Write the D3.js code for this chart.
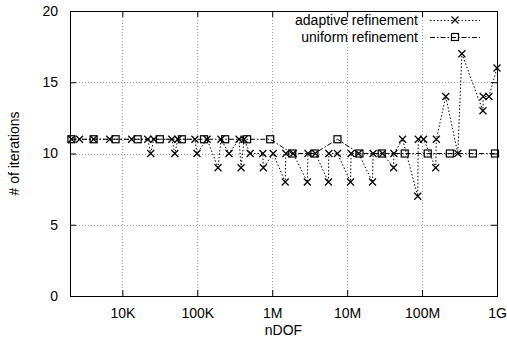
<!DOCTYPE html>
<html><head><meta charset="utf-8">
<script src="https://cdn.jsdelivr.net/npm/d3@7"></script>
<style>
html,body{margin:0;padding:0;background:#fff;}
svg{display:block;font-family:"Liberation Sans",Arial,sans-serif;}
</style></head>
<body>
<script>
// ---- data ----
const xTicks = [1e4, 1e5, 1e6, 1e7, 1e8, 1e9];
const xTickLabels = ["10K", "100K", "1M", "10M", "100M", "1G"];
const yTicks = [0, 5, 10, 15, 20];
const seriesNames = ["adaptive refinement", "uniform refinement"];

const uniformDOF = [2.09e3, 4.13e3, 8.13e3, 1.6e4, 3.16e4, 6.22e4, 1.23e5, 2.35e5, 4.62e5, 9.4e5,
  1.85e6, 3.66e6, 7.43e6, 1.46e7, 2.89e7, 5.87e7, 1.19e8, 2.35e8, 4.77e8, 9.4e8];
const uniformIter = [11, 11, 11, 11, 11, 11, 11, 11, 11, 11,
  10, 10, 11, 10, 10, 10, 10, 10, 10, 10];

const adaptiveDOF = [2.09e3, 2.68e3, 4.13e3, 6.77e3, 1.33e4, 2.18e4, 2.39e4, 2.63e4, 4.57e4, 5.01e4,
  5.5e4, 9.3e4, 9.9e4, 1.35e5, 1.89e5, 2.07e5, 2.65e5, 3.61e5, 3.84e5, 4.21e5,
  5.07e5, 7.5e5, 7.6e5, 1.03e6, 1.49e6, 1.52e6, 1.91e6, 2.94e6, 3.0e6, 3.77e6,
  5.62e6, 5.7e6, 7.42e6, 1.11e7, 1.13e7, 1.42e7, 2.18e7, 2.22e7, 2.97e7, 4.17e7,
  4.2e7, 5.5e7, 8.75e7, 8.9e7, 1.05e8, 1.52e8, 1.55e8, 2.07e8, 3.0e8, 3.4e8,
  6.49e8, 6.55e8, 7.81e8, 1.0e9];
const adaptiveIter = [11, 11, 11, 11, 11, 11, 10, 11, 11, 10,
  11, 11, 10, 11, 9, 11, 10, 11, 9, 11,
  10, 10, 9, 10, 8, 10, 10, 8, 10, 10,
  8, 10, 10, 8, 10, 10, 8, 10, 10, 9,
  10, 11, 7, 11, 11, 9, 11, 14, 10, 17,
  13, 14, 14, 16];

// ---- layout ----
const W = 507, H = 347;
const L = 70, R = 497, T = 11, B = 296;

const svg = d3.select("body").append("svg").attr("width", W).attr("height", H);

const x = d3.scaleLog().domain([2000, 1e9]).range([L, R]);
const y = d3.scaleLinear().domain([0, 20]).range([B, T]);

// grid
const grid = svg.append("g").attr("stroke", "#a0a0a0").attr("stroke-width", 1).attr("stroke-dasharray", "1,2");
xTicks.forEach(t => {
  const px = Math.round(x(t)) + 0.5;
  grid.append("line").attr("x1", px).attr("x2", px).attr("y1", T).attr("y2", B);
});
yTicks.filter(t => t > 0 && t < 20).forEach(t => {
  const py = Math.round(y(t)) + 0.5;
  grid.append("line").attr("x1", L).attr("x2", R).attr("y1", py).attr("y2", py);
});

// axes
const xAxis = d3.axisBottom(x).tickValues(xTicks).tickFormat((d, i) => xTickLabels[i]).tickSize(-6).tickPadding(12);
const gx = svg.append("g").attr("transform", `translate(0,${B})`).call(xAxis);
const xAxisTop = d3.axisTop(x).tickValues(xTicks).tickFormat("").tickSize(-6);
svg.append("g").attr("transform", `translate(0,${T})`).call(xAxisTop);
const yAxis = d3.axisLeft(y).tickValues(yTicks).tickSize(-6).tickPadding(12);
svg.append("g").attr("transform", `translate(${L},0)`).call(yAxis);
const yAxisR = d3.axisRight(y).tickValues(yTicks).tickFormat("").tickSize(-6);
svg.append("g").attr("transform", `translate(${R},0)`).call(yAxisR);
svg.selectAll(".domain").remove();
svg.selectAll(".tick line").attr("stroke", "#000");
svg.selectAll(".tick text").attr("font-size", 14).attr("font-family", "Liberation Sans, Arial, sans-serif").attr("fill", "#000");

// border
svg.append("rect").attr("x", L + 0.5).attr("y", T + 0.5).attr("width", R - L).attr("height", B - T)
  .attr("fill", "none").attr("stroke", "#000").attr("stroke-width", 1);

// labels
svg.append("text").attr("x", (L + R) / 2).attr("y", 335).attr("text-anchor", "middle")
  .attr("font-size", 14).text("nDOF");
svg.append("text").attr("transform", `translate(19,${(T + B) / 2}) rotate(-90)`).attr("text-anchor", "middle")
  .attr("font-size", 14).text("# of iterations");

// series
const adaptive = adaptiveDOF.map((d, i) => [d, adaptiveIter[i]]);
const uniform = uniformDOF.map((d, i) => [d, uniformIter[i]]);
const line = d3.line().x(d => x(d[0])).y(d => y(d[1]));

const clip = svg.append("defs").append("clipPath").attr("id", "c").append("rect")
  .attr("x", L).attr("y", T - 5).attr("width", R - L + 5).attr("height", B - T + 10);

function cross(g, cx, cy) {
  const s = 3.5;
  g.append("path").attr("d", `M${cx - s},${cy - s}L${cx + s},${cy + s}M${cx - s},${cy + s}L${cx + s},${cy - s}`)
    .attr("stroke", "#000").attr("stroke-width", 1.2).attr("fill", "none");
}
function square(g, cx, cy) {
  const s = 3.5;
  g.append("rect").attr("x", cx - s).attr("y", cy - s).attr("width", 2 * s).attr("height", 2 * s)
    .attr("stroke", "#000").attr("stroke-width", 1.2).attr("fill", "none");
}

const gA = svg.append("g");
gA.append("path").datum(adaptive).attr("d", line).attr("fill", "none").attr("stroke", "#000")
  .attr("stroke-width", 1).attr("stroke-dasharray", "1.5,2");
adaptive.forEach(d => cross(gA, x(d[0]), y(d[1])));

const gU = svg.append("g");
gU.append("path").datum(uniform).attr("d", line).attr("fill", "none").attr("stroke", "#000")
  .attr("stroke-width", 1).attr("stroke-dasharray", "5,2,1.5,2");
uniform.forEach(d => square(gU, x(d[0]), y(d[1])));

// legend
const legY = [20, 37];
const styles = [{dash: "1.5,2", mk: cross}, {dash: "5,2,1.5,2", mk: square}];
seriesNames.forEach((n, i) => {
  svg.append("text").attr("x", 418).attr("y", legY[i]).attr("dy", "0.35em").attr("text-anchor", "end")
    .attr("font-size", 14).text(n);
  svg.append("line").attr("x1", 430).attr("x2", 480).attr("y1", legY[i] + 0.5).attr("y2", legY[i] + 0.5)
    .attr("stroke", "#000").attr("stroke-dasharray", styles[i].dash);
  styles[i].mk(svg, 455, legY[i]);
});
</script>
</body></html>
